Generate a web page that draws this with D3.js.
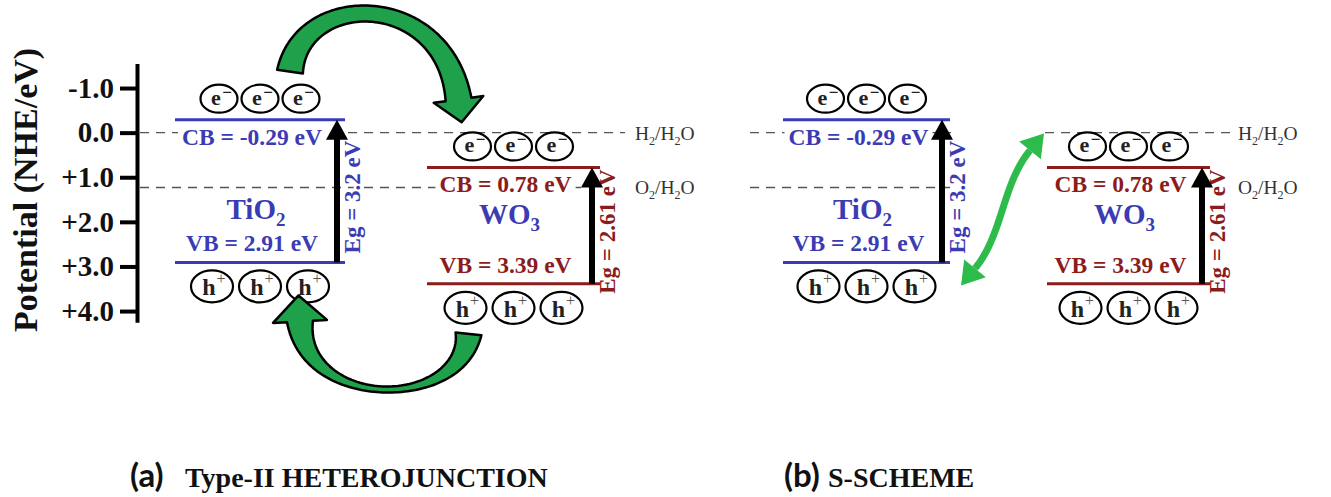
<!DOCTYPE html>
<html><head><meta charset="utf-8">
<script src="https://cdn.jsdelivr.net/npm/d3@7"></script>
<style>
body{margin:0;background:#fff;}
svg{display:block;}
</style></head><body>
<svg id="chart" width="1331" height="497"></svg>
<script>
// ---------------- DATA ----------------
const tickValues = [-1, 0, 1, 2, 3, 4];
const tickLabels = ["-1.0", "0.0", "+1.0", "+2.0", "+3.0", "+4.0"];
const yAxisTitle = "Potential (NHE/eV)";
const materials = ["TiO2", "WO3"];
const cbValues = [-0.29, 0.78];
const vbValues = [2.91, 3.39];
const bandGaps = [3.2, 2.61];
const redoxCouples = ["H2/H2O", "O2/H2O"];
const redoxPotentials = [0, 1.23];
const panelLetters = ["(a)", "(b)"];
const panelTitles = ["Type-II HETEROJUNCTION", "S-SCHEME"];
const carriersPerBand = 3;

// ---------------- LAYOUT ----------------
const SERIF = "'Liberation Serif','Times New Roman',Times,serif";
const BLUE = "#3b3bb3", MAROON = "#8b1c1c", GREEN = "#1fa04a", GREEN2 = "#2dbb4c";
const matColor = [BLUE, MAROON];
const blocks = [
  {panel: 0, m: 0, x0: 175, x1: 345},
  {panel: 0, m: 1, x0: 427, x1: 600},
  {panel: 1, m: 0, x0: 783, x1: 950},
  {panel: 1, m: 1, x0: 1047, x1: 1210}
];
const dashSegs = [ // [redox index, xStart, xEnd]
  [0, 140, 625], [1, 140, 582],
  [0, 750, 955], [0, 1045, 1230],
  [1, 750, 950], [1, 1060, 1188]
];
const redoxLabelX = [635, 1238];
const titleX = [{l: 130, t: 185}, {l: 784, t: 828}];

const svg = d3.select("#chart");
const y = d3.scaleLinear().domain([-1.55, 4.25]).range([63.5, 322.2]);

// ---------------- AXIS ----------------
const axisG = svg.append("g").attr("transform", "translate(137,0)")
  .call(d3.axisLeft(y).tickValues(tickValues).tickFormat((d, i) => tickLabels[i])
    .tickSizeInner(17).tickSizeOuter(0).tickPadding(6));
axisG.select(".domain").attr("stroke", "#000").attr("stroke-width", 4);
axisG.selectAll(".tick line").attr("stroke", "#000").attr("stroke-width", 4);
axisG.selectAll(".tick text").attr("font-family", SERIF).attr("font-weight", "bold")
  .attr("font-size", 29).attr("fill", "#111");

svg.append("text").attr("transform", "translate(37,190) rotate(-90)")
  .attr("text-anchor", "middle").attr("font-family", SERIF).attr("font-weight", "bold")
  .attr("font-size", 34).attr("fill", "#111").text(yAxisTitle);

// ---------------- helpers ----------------
function chem(sel, str, subSize, dy) {
  const parts = str.match(/\d+|\D+/g);
  let inSub = false;
  parts.forEach(p => {
    const t = sel.append("tspan").text(p);
    if (/^\d+$/.test(p)) { t.attr("font-size", subSize).attr("dy", dy); inSub = true; }
    else if (inSub) { t.attr("dy", -dy); inSub = false; }
  });
}
function halo(sel, w) {
  return sel.attr("stroke", "#fff").attr("stroke-width", w).attr("paint-order", "stroke")
    .attr("stroke-linejoin", "round");
}
function backdrop(g, textSel, pad) {
  const bb = textSel.node().getBBox();
  g.insert("rect", () => textSel.node())
    .attr("x", bb.x - pad).attr("y", bb.y + 3).attr("width", bb.width + 2 * pad)
    .attr("height", bb.height - 6).attr("fill", "#fff");
}
function bez(P, t) {
  const u = 1 - t;
  return [0, 1].map(k => u*u*u*P[0][k] + 3*u*u*t*P[1][k] + 3*u*t*t*P[2][k] + t*t*t*P[3][k]);
}
function bezD(P, t) {
  const u = 1 - t;
  const d = [0, 1].map(k => 3*u*u*(P[1][k]-P[0][k]) + 6*u*t*(P[2][k]-P[1][k]) + 3*t*t*(P[3][k]-P[2][k]));
  const L = Math.hypot(d[0], d[1]);
  return [d[0]/L, d[1]/L];
}
function curvedArrow(P, hw, headHalf, headLen) {
  const N = 80, L = [], R = [];
  for (let i = 0; i <= N; i++) {
    const t = i / N, p = bez(P, t), d = bezD(P, t), n = [-d[1], d[0]], w = hw(t);
    L.push([p[0] + n[0]*w, p[1] + n[1]*w]);
    R.push([p[0] - n[0]*w, p[1] - n[1]*w]);
  }
  const p3 = P[3], d = bezD(P, 1), n = [-d[1], d[0]];
  const tip = [p3[0] + d[0]*headLen, p3[1] + d[1]*headLen];
  const wl = [p3[0] + n[0]*headHalf, p3[1] + n[1]*headHalf];
  const wr = [p3[0] - n[0]*headHalf, p3[1] - n[1]*headHalf];
  return [...L, wl, tip, wr, ...R.reverse()];
}
const line = d3.line();

// ---------------- dashed redox levels ----------------
dashSegs.forEach(([r, xa, xb]) => {
  svg.append("line").attr("x1", xa).attr("x2", xb)
    .attr("y1", y(redoxPotentials[r])).attr("y2", y(redoxPotentials[r]))
    .attr("stroke", "#555").attr("stroke-width", 1.4).attr("stroke-dasharray", "9,7");
});
[0, 1].forEach(p => {
  redoxCouples.forEach((c, r) => {
    const t = svg.append("text").attr("x", redoxLabelX[p]).attr("y", y(redoxPotentials[r]) + 7)
      .attr("font-family", SERIF).attr("font-size", 19.5).attr("fill", "#333");
    chem(t, c, 12, 5);
  });
});

// ---------------- semiconductor blocks ----------------
blocks.forEach(b => {
  const m = b.m, col = matColor[m];
  const yc = y(cbValues[m]), yv = y(vbValues[m]);
  const ax = b.x1 - 8;
  const lc = (b.x0 + ax) / 2 - 4;
  const g = svg.append("g");

  // labels
  const cbT = g.append("text").attr("x", lc).attr("y", yc + 25).attr("text-anchor", "middle")
    .attr("font-family", SERIF).attr("font-weight", "bold").attr("font-size", 23.5).attr("fill", col)
    .text(`CB = ${cbValues[m].toFixed(2)} eV`);
  backdrop(g, cbT, 4);
  g.append("text").attr("x", lc).attr("y", yv - 11).attr("text-anchor", "middle")
    .attr("font-family", SERIF).attr("font-weight", "bold").attr("font-size", 23.5).attr("fill", col)
    .text(`VB = ${vbValues[m].toFixed(2)} eV`);
  const mt = g.append("text").attr("x", lc + 4).attr("y", Math.max(219, yc + 57)).attr("text-anchor", "middle")
    .attr("font-family", SERIF).attr("font-weight", "bold").attr("font-size", 29).attr("fill", BLUE);
  chem(mt, materials[m], 19, 7);
  halo(g.append("text").attr("transform", `translate(${ax + 23},${(yc + yv) / 2 + 6}) rotate(-90)`)
    .attr("text-anchor", "middle").attr("font-family", SERIF).attr("font-weight", "bold")
    .attr("font-size", 23).attr("fill", col).text(`Eg = ${bandGaps[m]} eV`), 5);

  // band edges
  [yc, yv].forEach(yy => g.append("line").attr("x1", b.x0).attr("x2", b.x1)
    .attr("y1", yy).attr("y2", yy).attr("stroke", col).attr("stroke-width", 3));

  // band-gap arrow
  g.append("line").attr("x1", ax).attr("x2", ax).attr("y1", yv).attr("y2", yc + 18)
    .attr("stroke", "#000").attr("stroke-width", 6);
  g.append("path").attr("d", line([[ax - 11, yc + 20], [ax, yc], [ax + 11, yc + 20]]) + "Z")
    .attr("fill", "#000");

  // carriers
  const cx = (b.x0 + b.x1) / 2;
  d3.range(carriersPerBand).forEach(i => {
    const ex = cx + (i - 1) * 41, ey = yc - 21;
    g.append("ellipse").attr("cx", ex).attr("cy", ey).attr("rx", 18.5).attr("ry", 14)
      .attr("fill", "#fff").attr("stroke", "#000").attr("stroke-width", 2.2);
    g.append("text").attr("x", ex - 3).attr("y", ey + 6).attr("text-anchor", "middle")
      .attr("font-family", SERIF).attr("font-weight", "bold").attr("font-size", 22).attr("fill", "#222").text("e");
    g.append("text").attr("x", ex + 8).attr("y", ey - 1).attr("text-anchor", "middle")
      .attr("font-family", SERIF).attr("font-weight", "bold").attr("font-size", 17).attr("fill", "#222").text("\u2212");
    const hx = cx + (i - 1) * 48, hy = yv + 24;
    g.append("ellipse").attr("cx", hx).attr("cy", hy).attr("rx", 21).attr("ry", 16)
      .attr("fill", "#fff").attr("stroke", "#000").attr("stroke-width", 2.2);
    g.append("text").attr("x", hx - 3).attr("y", hy + 9).attr("text-anchor", "middle")
      .attr("font-family", SERIF).attr("font-weight", "bold").attr("font-size", 24).attr("fill", "#222").text("h");
    g.append("text").attr("x", hx + 9).attr("y", hy - 2).attr("text-anchor", "middle")
      .attr("font-family", SERIF).attr("font-size", 16).attr("fill", "#555").text("+");
  });
});

// ---------------- charge-transfer arrows ----------------
const bA1 = blocks[0], bA2 = blocks[1], bB1 = blocks[2], bB2 = blocks[3];
const cxOf = b => (b.x0 + b.x1) / 2;
const eY = b => y(cbValues[b.m]) - 21, hY = b => y(vbValues[b.m]) + 24;

// (a) electrons TiO2 CB -> WO3 CB
{
  const P0 = [cxOf(bA1) + 30, eY(bA1) - 27], P3 = [cxOf(bA2) - 55, eY(bA2) - 47];
  const P = [P0, [P0[0] + 12, -10], [P3[0] - 15, -10], P3];
  svg.append("path").attr("d", line(curvedArrow(P, t => 8 + 5 * (2*t - 1) ** 2, 25, 23)) + "Z")
    .attr("fill", GREEN).attr("stroke", "#000").attr("stroke-width", 2.5).attr("stroke-linejoin", "round");
}
// (a) holes WO3 VB -> TiO2 VB
{
  const P0 = [cxOf(bA2) - 45, hY(bA2) + 26], P3 = [cxOf(bA1) + 40, hY(bA1) + 35];
  const P = [P0, [P0[0] - 8, 410], [P3[0] + 5, 410], P3];
  svg.append("path").attr("d", line(curvedArrow(P, t => 3 + 10 * (2*t - 1) ** 2, 27, 26)) + "Z")
    .attr("fill", GREEN).attr("stroke", "#000").attr("stroke-width", 2.5).attr("stroke-linejoin", "round");
}
// (b) S-scheme recombination path (double headed)
{
  const Q0 = [bB1.x1 + 25, hY(bB1) - 18], Q3 = [bB2.x0 - 17, eY(bB2) + 4];
  const Q = [Q0, [Q0[0] + 28, Q0[1] - 34], [Q3[0] - 28, Q3[1] + 34], Q3];
  const pts = d3.range(0, 1.0001, 1 / 60).map(t => bez(Q, t));
  svg.append("path").attr("d", line(pts)).attr("fill", "none").attr("stroke", GREEN2)
    .attr("stroke-width", 7);
  [[0, -1], [1, 1]].forEach(([t, s]) => {
    const p = bez(Q, t), d = bezD(Q, t), n = [-d[1], d[0]];
    const tip = [p[0] + s * d[0] * 22, p[1] + s * d[1] * 22];
    svg.append("path").attr("d", line([[p[0] + n[0]*14, p[1] + n[1]*14], tip,
      [p[0] - n[0]*14, p[1] - n[1]*14]]) + "Z").attr("fill", GREEN2);
  });
}

// ---------------- panel titles ----------------
panelLetters.forEach((l, i) => {
  svg.append("text").attr("x", titleX[i].l).attr("y", 487)
    .attr("font-family", "Lato, 'Open Sans', sans-serif").attr("font-weight", "bold")
    .attr("font-size", 33).attr("fill", "#111").text(l);
  svg.append("text").attr("x", titleX[i].t).attr("y", 487)
    .attr("font-family", SERIF).attr("font-weight", "bold")
    .attr("font-size", 28).attr("fill", "#111").text(panelTitles[i]);
});
</script>
</body></html>
